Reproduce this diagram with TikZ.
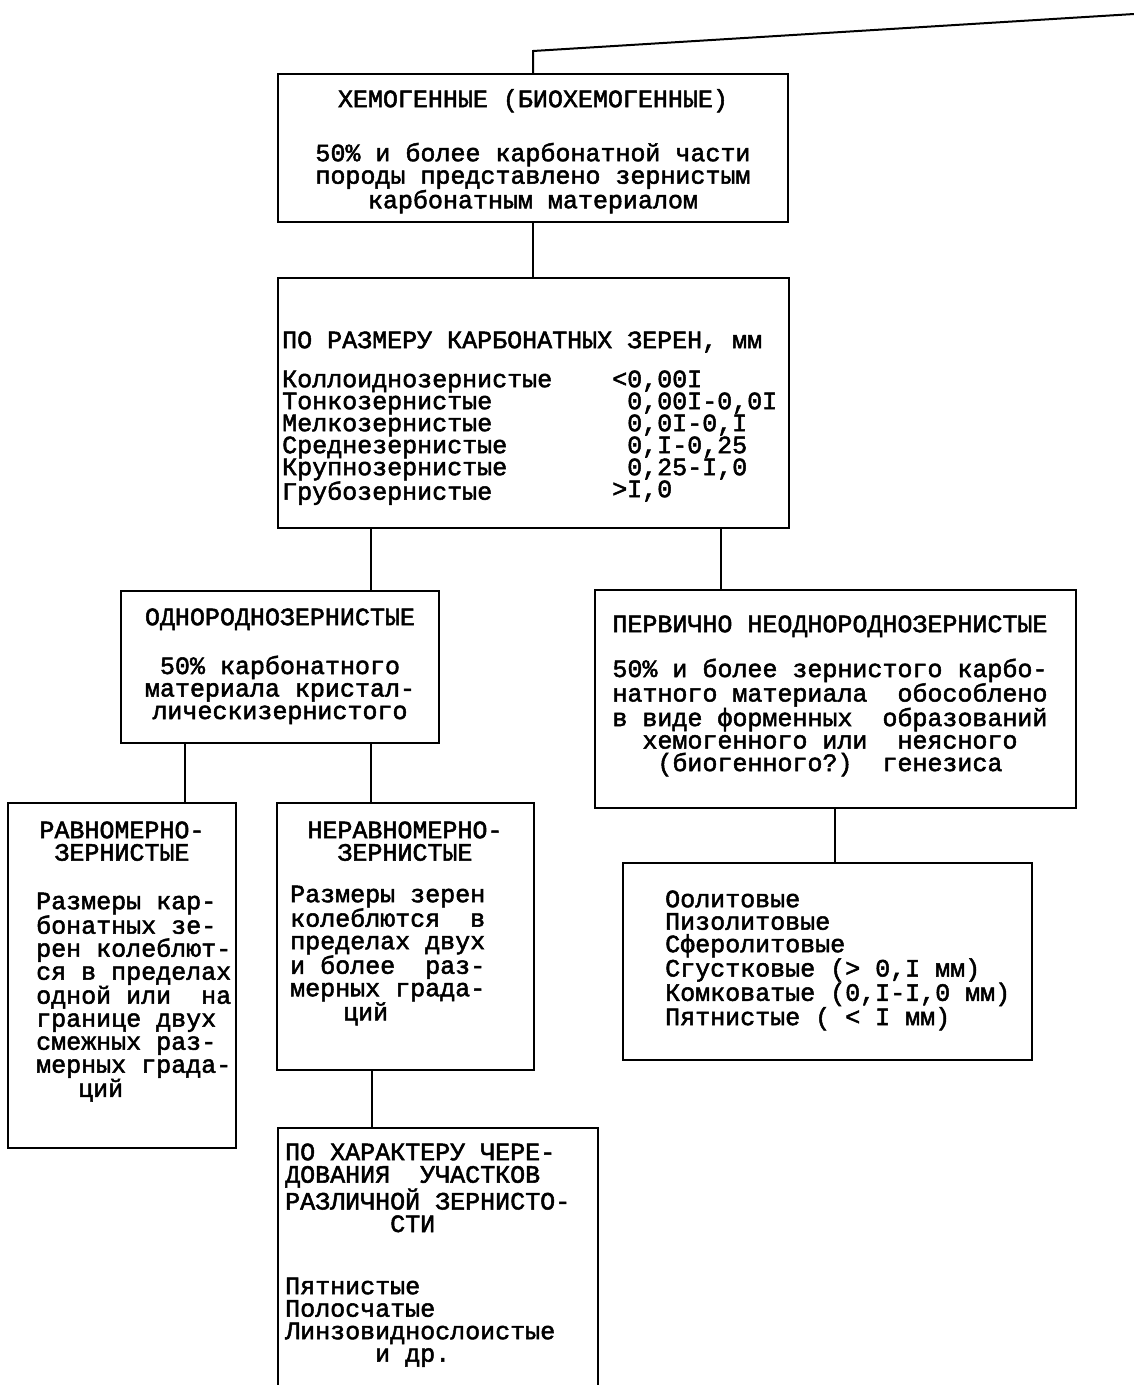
\documentclass[tikz,border=0pt]{standalone}
\usepackage{fontspec}
\newfontfamily\tw{Liberation Mono}[FakeBold=2]
\newcommand{\fs}{\rule{0pt}{20pt}}
\begin{document}
\begin{tikzpicture}[x=1pt,y=-1pt,
  box/.style={draw, line width=2pt, inner sep=0pt, outer sep=0pt},
  txt/.style={font=\tw\fontsize{25}{22.5}\selectfont, inner sep=0pt},
  ctxt/.style={txt, anchor=north, align=center},
  ltxt/.style={txt, anchor=north west, align=left},
  ln/.style={line width=2pt}]
\useasboundingbox (0,0) rectangle (1134,1385);
\fill[white] (0,0) rectangle (1134,1385);

% boxes
\node[box, minimum width=510pt, minimum height=148pt] (b1) at (533,148) {};
\node[box, minimum width=511pt, minimum height=250pt] (b2) at (533.5,403) {};
\node[box, minimum width=318pt, minimum height=152pt] (b3) at (280,667) {};
\node[box, minimum width=228pt, minimum height=345pt] (b4) at (122,975.5) {};
\node[box, minimum width=257pt, minimum height=267pt] (b5) at (405.5,936.5) {};
\node[box, minimum width=481pt, minimum height=218pt] (b6) at (835.5,699) {};
\node[box, minimum width=320pt, minimum height=267pt] (b7) at (438,1261.5) {};
\node[box, minimum width=409pt, minimum height=197pt] (b8) at (827.5,961.5) {};

% texts
\node[ctxt] (t1) at (533,87) {\fs ХЕМОГЕННЫЕ (БИОХЕМОГЕННЫЕ)\\[29.5pt]50\% и более карбонатной части\\породы представлено зернистым\\карбонатным материалом};

\node[ltxt] (t2a) at (282,328) {\fs ПО РАЗМЕРУ КАРБОНАТНЫХ ЗЕРЕН, мм};
\node[ltxt, font=\tw\fontsize{25}{22}\selectfont] (t2b) at (282,367) {\fs Коллоиднозернистые\\Тонкозернистые\\Мелкозернистые\\Среднезернистые\\Крупнозернистые\\Грубозернистые};
\node[ltxt, font=\tw\fontsize{25}{22}\selectfont] (t2c) at (612,367) {\fs <0,00I\\\hspace*{15pt}0,00I-0,0I\\\hspace*{15pt}0,0I-0,I\\\hspace*{15pt}0,I-0,25\\\hspace*{15pt}0,25-I,0\\>I,0};

\node[ctxt] (t3) at (280,605) {\fs ОДНОРОДНОЗЕРНИСТЫЕ\\[24.5pt]50\% карбонатного\\материала кристал-\\лическизернистого};

\node[ctxt] (t4a) at (122,818) {\fs РАВНОМЕРНО-\\ЗЕРНИСТЫЕ};
\node[ltxt, font=\tw\fontsize{25}{23}\selectfont] (t4b) at (36,889) {\fs Размеры кар-\\бонатных зе-\\рен колеблют-\\ся в пределах\\одной или~~на\\границе двух\\смежных раз-\\мерных града-\\\hspace*{42pt}ций};

\node[ctxt] (t5a) at (405,818) {\fs НЕРАВНОМЕРНО-\\ЗЕРНИСТЫЕ};
\node[ltxt] (t5b) at (290,882) {\fs Размеры зерен\\колеблются~~в\\пределах двух\\и более~~раз-\\мерных града-\\\hspace*{53pt}ций};

\node[ctxt] (t6) at (830,612) {\fs ПЕРВИЧНО НЕОДНОРОДНОЗЕРНИСТЫЕ\\[20.5pt]50\% и более зернистого карбо-\\натного материала~~обособлено\\в виде форменных~~образований\\хемогенного или~~неясного\\(биогенного?)~~генезиса};

\node[ltxt] (t7a) at (285,1140) {\fs ПО ХАРАКТЕРУ ЧЕРЕ-\\ДОВАНИЯ~~УЧАСТКОВ\\РАЗЛИЧНОЙ ЗЕРНИСТО-\\\hspace*{105pt}СТИ};
\node[ltxt] (t7b) at (285,1274) {\fs Пятнистые\\Полосчатые\\Линзовиднослоистые\\\hspace*{90pt}и др.};

\node[ltxt] (t8) at (665,887) {\fs Оолитовые\\Пизолитовые\\Сферолитовые\\Сгустковые (> 0,I мм)\\Комковатые (0,I-I,0 мм)\\Пятнистые ( < I мм)};

% connectors
\coordinate (tr) at (1134,14);
\coordinate (bend) at (533,51);
\coordinate (xa) at (371,0);
\coordinate (xb) at (721,0);
\coordinate (xc) at (185,0);
\coordinate (xd) at (372,0);
\coordinate (xe) at (835,0);
\draw[ln] (tr) -- (bend) -- (bend |- b1.north);
\draw[ln] (b1.south) -- (b1.south |- b2.north);
\draw[ln] (b2.south -| xa) -- (b3.north -| xa);
\draw[ln] (b2.south -| xb) -- (b6.north -| xb);
\draw[ln] (b3.south -| xc) -- (b4.north -| xc);
\draw[ln] (b3.south -| xa) -- (b5.north -| xa);
\draw[ln] (b5.south -| xd) -- (b7.north -| xd);
\draw[ln] (b6.south -| xe) -- (b8.north -| xe);
\end{tikzpicture}
\end{document}
